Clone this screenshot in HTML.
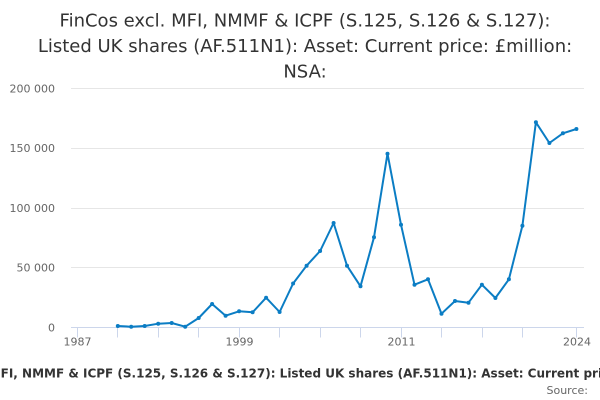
<!DOCTYPE html>
<html>
<head>
<meta charset="utf-8">
<style>
  html, body { margin: 0; padding: 0; background: #ffffff; }
  body { width: 600px; height: 400px; overflow: hidden; }
  svg { display: block; font-family: "DejaVu Sans", "Liberation Sans", sans-serif; }
</style>
</head>
<body>
<svg width="600" height="400" viewBox="0 0 600 400" xmlns="http://www.w3.org/2000/svg">
  <rect x="0" y="0" width="600" height="400" fill="#ffffff"/>
  <!-- Title -->
  <g fill="#333333" font-size="18" text-anchor="middle">
    <text x="305" y="26.5">FinCos excl. MFI, NMMF &amp; ICPF (S.125, S.126 &amp; S.127):</text>
    <text x="305" y="52">Listed UK shares (AF.511N1): Asset: Current price: £million:</text>
    <text x="305" y="77.5">NSA:</text>
  </g>
  <!-- Gridlines -->
  <g stroke="#e6e6e6" stroke-width="1">
    <line x1="71" y1="88.5" x2="584" y2="88.5"/>
    <line x1="71" y1="148.5" x2="584" y2="148.5"/>
    <line x1="71" y1="208.5" x2="584" y2="208.5"/>
    <line x1="71" y1="267.5" x2="584" y2="267.5"/>
  </g>
  <!-- X axis line -->
  <line x1="71" y1="327.5" x2="584" y2="327.5" stroke="#ccd6eb" stroke-width="1"/>
  <!-- Ticks -->
  <g stroke="#ccd6eb" stroke-width="1">
    <line x1="77.5" y1="327.5" x2="77.5" y2="337.5"/>
    <line x1="117.5" y1="327.5" x2="117.5" y2="337.5"/>
    <line x1="158.5" y1="327.5" x2="158.5" y2="337.5"/>
    <line x1="198.5" y1="327.5" x2="198.5" y2="337.5"/>
    <line x1="239.5" y1="327.5" x2="239.5" y2="337.5"/>
    <line x1="279.5" y1="327.5" x2="279.5" y2="337.5"/>
    <line x1="320.5" y1="327.5" x2="320.5" y2="337.5"/>
    <line x1="360.5" y1="327.5" x2="360.5" y2="337.5"/>
    <line x1="401.5" y1="327.5" x2="401.5" y2="337.5"/>
    <line x1="441.5" y1="327.5" x2="441.5" y2="337.5"/>
    <line x1="482.5" y1="327.5" x2="482.5" y2="337.5"/>
    <line x1="522.5" y1="327.5" x2="522.5" y2="337.5"/>
    <line x1="576.5" y1="327.5" x2="576.5" y2="337.5"/>
  </g>
  <!-- Y labels -->
  <g fill="#666666" font-size="11" text-anchor="end">
    <text x="55" y="92.5">200 000</text>
    <text x="55" y="152">150 000</text>
    <text x="55" y="212">100 000</text>
    <text x="55" y="271.5">50 000</text>
    <text x="55" y="331.5">0</text>
  </g>
  <!-- X labels -->
  <g fill="#666666" font-size="11" text-anchor="middle">
    <text x="77.5" y="345.5">1987</text>
    <text x="239.5" y="345.5">1999</text>
    <text x="401.5" y="345.5">2011</text>
    <text x="577" y="345.5">2024</text>
  </g>
  <!-- Series -->
  <polyline fill="none" stroke="#0b7dc4" stroke-width="2" stroke-linejoin="round" stroke-linecap="round"
    points="117.8,326 131.2,326.7 144.7,326 158.2,323.7 171.7,323 185.2,326.7 198.7,318 212.1,304 225.6,315.7 239.1,311.3 252.6,312.3 266.1,297.7 279.6,312 293.1,283.5 306.6,265.7 320.1,251 333.6,223 347,265.7 360.5,286.3 374,237.3 387.5,153.7 401,224.7 414.5,284.7 428,279.3 441.5,313.7 455,301 468.5,302.7 481.9,284.7 495.4,298 508.9,279.3 522.4,225.7 535.9,122.3 549.4,143 562.9,133.3 576.4,129"/>
  <g fill="#0b7dc4">
    <circle cx="117.8" cy="326" r="2"/>
    <circle cx="131.2" cy="326.7" r="2"/>
    <circle cx="144.7" cy="326" r="2"/>
    <circle cx="158.2" cy="323.7" r="2"/>
    <circle cx="171.7" cy="323" r="2"/>
    <circle cx="185.2" cy="326.7" r="2"/>
    <circle cx="198.7" cy="318" r="2"/>
    <circle cx="212.1" cy="304" r="2"/>
    <circle cx="225.6" cy="315.7" r="2"/>
    <circle cx="239.1" cy="311.3" r="2"/>
    <circle cx="252.6" cy="312.3" r="2"/>
    <circle cx="266.1" cy="297.7" r="2"/>
    <circle cx="279.6" cy="312" r="2"/>
    <circle cx="293.1" cy="283.5" r="2"/>
    <circle cx="306.6" cy="265.7" r="2"/>
    <circle cx="320.1" cy="251" r="2"/>
    <circle cx="333.6" cy="223" r="2"/>
    <circle cx="347" cy="265.7" r="2"/>
    <circle cx="360.5" cy="286.3" r="2"/>
    <circle cx="374" cy="237.3" r="2"/>
    <circle cx="387.5" cy="153.7" r="2"/>
    <circle cx="401" cy="224.7" r="2"/>
    <circle cx="414.5" cy="284.7" r="2"/>
    <circle cx="428" cy="279.3" r="2"/>
    <circle cx="441.5" cy="313.7" r="2"/>
    <circle cx="455" cy="301" r="2"/>
    <circle cx="468.5" cy="302.7" r="2"/>
    <circle cx="481.9" cy="284.7" r="2"/>
    <circle cx="495.4" cy="298" r="2"/>
    <circle cx="508.9" cy="279.3" r="2"/>
    <circle cx="522.4" cy="225.7" r="2"/>
    <circle cx="535.9" cy="122.3" r="2"/>
    <circle cx="549.4" cy="143" r="2"/>
    <circle cx="562.9" cy="133.3" r="2"/>
    <circle cx="576.4" cy="129" r="2"/>
  </g>
  <!-- Bottom caption -->
  <text x="313" y="377.5" fill="#333333" font-size="12" font-weight="bold" text-anchor="middle">FinCos excl. MFI, NMMF &amp; ICPF (S.125, S.126 &amp; S.127): Listed UK shares (AF.511N1): Asset: Current price: £million: NSA:</text>
  <text x="588" y="394" fill="#666666" font-size="11" text-anchor="end">Source:</text>
</svg>
</body>
</html>
